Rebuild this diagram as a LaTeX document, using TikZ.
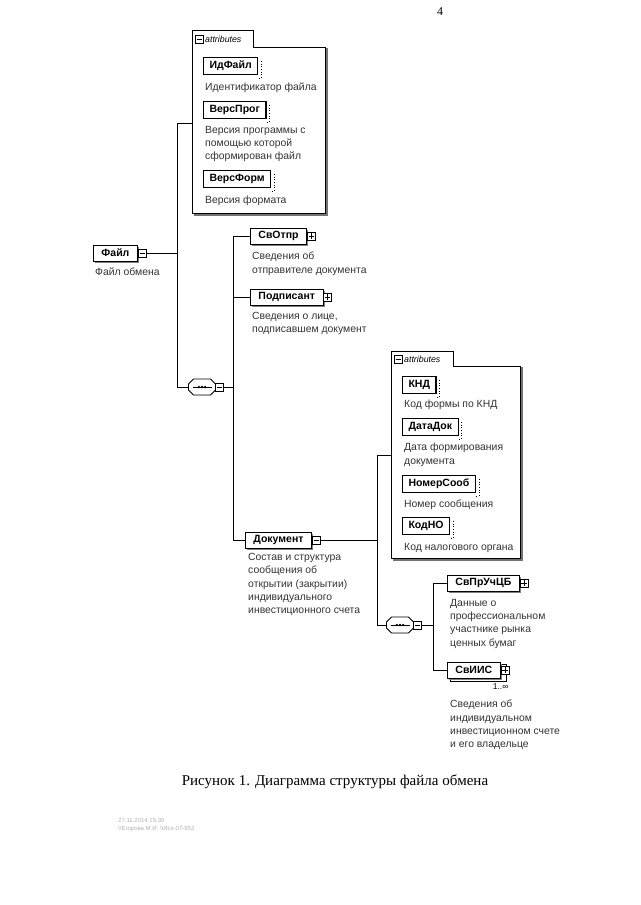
\documentclass[tikz,border=0pt]{standalone}
\usepackage{fontspec}
\setmainfont{Liberation Sans}
\newfontfamily\serifcapt{Liberation Serif}
\usetikzlibrary{calc,positioning,shadows}

\newcommand{\seqoutline}{(-8.5,-8) -- (8.5,-8) -- (13.5,-3) -- (13.5,3) -- (8.5,8) -- (-8.5,8) -- (-13.5,3) -- (-13.5,-3) -- cycle}

\begin{document}
\begin{tikzpicture}[x=1pt,y=-1pt,
	wire/.style={line width=0.8pt},
	elem/.style={draw, line width=0.9pt, fill=white, anchor=west, inner xsep=8pt, inner ysep=0pt, minimum height=16pt,
		font=\bfseries\fontsize{10.5}{12}\selectfont,
		drop shadow={shadow xshift=1.5pt, shadow yshift=-1.5pt, fill=black!50, opacity=1}},
	attr/.style={draw, line width=1.1pt, fill=white, anchor=west, inner xsep=6pt, inner ysep=0pt, minimum height=17pt,
		font=\bfseries\fontsize{10.5}{12}\selectfont},
	desc/.style={anchor=north west, align=left, inner sep=0pt, text=black!80, font=\fontsize{10.4}{13.3}\selectfont},
	frame/.style={line width=0.9pt, fill=white},
	sqbox/.style={draw, line width=0.6pt, fill=white, minimum size=8pt, inner sep=0pt, anchor=west},
	sqminus/.style={sqbox, path picture={\draw[line width=0.6pt] ([xshift=1.4pt]path picture bounding box.west) -- ([xshift=-1.4pt]path picture bounding box.east);}},
	sqplus/.style={sqbox, path picture={\draw[line width=0.6pt] ([xshift=1.4pt]path picture bounding box.west) -- ([xshift=-1.4pt]path picture bounding box.east)
		([yshift=1.4pt]path picture bounding box.south) -- ([yshift=-1.4pt]path picture bounding box.north);}},
	seqbox/.style={minimum width=30pt, minimum height=20pt, inner sep=0pt,
		path picture={
			\begin{scope}[shift={(path picture bounding box.center)}, xshift=-0.7pt, yshift=0.5pt]
				\fill[black!50, shift={(1.3,1.3)}] \seqoutline;
				\draw[line width=0.9pt, fill=white] \seqoutline;
				\draw[line width=0.6pt] (-9.5,0) -- (9.5,0);
				\foreach \dx in {-3.2,0,3.2}
					\fill (\dx,0) circle (1.3pt);
			\end{scope}}},
	tabtext/.style={anchor=west, inner sep=0pt, font=\itshape\fontsize{8.8}{10}\selectfont}]

	\useasboundingbox (0,0) rectangle (640,905);

	% page number
	\node[font=\serifcapt\fontsize{12}{14}\selectfont] (pagenum) at (440,12) {4};

	% first attributes box
	\draw[black!55, line width=1.4pt] (254,49) -- (327,49) -- (327,215) -- (194,215);
	\draw[frame] (192,213) -- (192,30) -- (253,30) -- (253,47) -- (325,47) -- (325,213) -- cycle;
	\node[sqminus] (attronesq) at (195,39) {};
	\node[tabtext] (attronelbl) at (205,39) {attributes};
	\coordinate (attrone) at (192,123);

	\node[attr] (idfile) at (203,66) {ИдФайл};
	\node[desc] (idfiledesc) at (205,83) {Идентификатор файла};
	\node[attr] (versprog) at (203,110) {ВерсПрог};
	\node[desc] (versprogdesc) at (205,126) {Версия программы с\\помощью которой\\сформирован файл};
	\node[attr] (versform) at (203,179) {ВерсФорм};
	\node[desc] (versformdesc) at (205,196) {Версия формата};
	\foreach \n in {idfile,versprog,versform}
		\draw[dotted, line width=0.7pt] ($(\n.north east)+(3,4)$) -- ($(\n.south east)+(3,3)$) -- ($(\n.south east)+(0,3)$);

	% root element
	\node[elem] (file) at (93,253) {Файл};
	\node[sqminus] (filesq) at (file.east) {};
	\node[desc] (filedesc) at (95,268) {Файл обмена};
	\coordinate (busA) at (177,123);

	% first sequence
	\node[seqbox] (seqone) at (202,387) {};
	\node[sqminus, right=-2pt of seqone] (seqonesq) {};
	\coordinate (busB) at (233,236);

	\node[elem] (svotpr) at (250,236) {СвОтпр};
	\node[sqplus] (svotprsq) at (svotpr.east) {};
	\node[desc] (svotprdesc) at (252,252) {Сведения об\\отправителе документа};

	\node[elem] (podpisant) at (250,297) {Подписант};
	\node[sqplus] (podpisantsq) at (podpisant.east) {};
	\node[desc] (podpisantdesc) at (252,312) {Сведения о лице,\\подписавшем документ};

	\node[elem] (dokument) at (245,540) {Документ};
	\node[sqminus] (doksq) at (dokument.east) {};
	\node[desc] (dokdesc) at (248,553) {Состав и структура\\сообщения об\\открытии (закрытии)\\индивидуального\\инвестиционного счета};
	\coordinate (busC) at (377,455);

	% second attributes box
	\draw[black!55, line width=1.4pt] (454,368) -- (522,368) -- (522,560) -- (393,560);
	\draw[frame] (391,558) -- (391,351) -- (453,351) -- (453,366) -- (520,366) -- (520,558) -- cycle;
	\node[sqminus] (attrtwosq) at (394,359) {};
	\node[tabtext] (attrtwolbl) at (404,359) {attributes};
	\coordinate (attrtwo) at (391,455);

	\node[attr] (knd) at (402,385) {КНД};
	\node[desc] (knddesc) at (404,400) {Код формы по КНД};
	\node[attr] (datadok) at (402,427) {ДатаДок};
	\node[desc] (datadokdesc) at (404,443) {Дата формирования\\документа};
	\node[attr] (nomersoob) at (402,484) {НомерСооб};
	\node[desc] (nomersoobdesc) at (404,500) {Номер сообщения};
	\node[attr] (kodno) at (402,526) {КодНО};
	\node[desc] (kodnodesc) at (404,543) {Код налогового органа};
	\foreach \n in {knd,datadok,nomersoob,kodno}
		\draw[dotted, line width=0.7pt] ($(\n.north east)+(3,4)$) -- ($(\n.south east)+(3,3)$) -- ($(\n.south east)+(0,3)$);

	% second sequence
	\node[seqbox] (seqtwo) at (400,625) {};
	\node[sqminus, right=-2pt of seqtwo] (seqtwosq) {};
	\coordinate (busD) at (433,583);

	\node[elem] (svpruchcb) at (447,583) {СвПрУчЦБ};
	\node[sqplus] (svpruchcbsq) at (svpruchcb.east) {};
	\node[desc] (svpruchcbdesc) at (450,599) {Данные о\\профессиональном\\участнике рынка\\ценных бумаг};

	\draw[line width=0.9pt, fill=white] ($(447,661)+(3,3)$) rectangle ($(503,678)+(3,3)$);
	\node[elem] (sviis) at (447,670) {СвИИС};
	\node[sqplus] (sviissq) at (sviis.east) {};
	\node[anchor=north east, inner sep=0pt, font=\fontsize{8.5}{9}\selectfont] (sviismult) at ($(sviis.south east)+(8,5)$) {1..∞};
	\node[desc] (sviisdesc) at (450,700) {Сведения об\\индивидуальном\\инвестиционном счете\\и его владельце};

	% connectors
	\draw[wire] (filesq.east) -- (filesq.east -| busA);
	\draw[wire] (attrone) -- (busA) |- ([xshift=1pt]seqone.west);
	\draw[wire] (seqonesq.east) -- (seqonesq.east -| busB);
	\draw[wire] (svotpr.west) -| (busB |- dokument.west) -- (dokument.west);
	\draw[wire] (podpisant.west) -- (podpisant.west -| busB);
	\draw[wire] (doksq.east) -- (doksq.east -| busC);
	\draw[wire] (attrtwo) -- (busC) |- ([xshift=1pt]seqtwo.west);
	\draw[wire] (seqtwosq.east) -- (seqtwosq.east -| busD);
	\draw[wire] (svpruchcb.west) -| (busD |- sviis.west) -- (sviis.west);

	% caption
	\node[font=\serifcapt\fontsize{15}{18}\selectfont] (caption) at (335,782) {Рисунок 1. Диаграмма структуры файла обмена};

	% stamp
	\node[anchor=west, align=left, inner sep=0pt, text=black!30, font=\fontsize{6}{8}\selectfont] (stamp) at (118,825) {27.11.2014 15:36\\\textbackslash\textbackslash Егорова М.И. \textbackslash\textbackslash Исх-07-552};
\end{tikzpicture}
\end{document}
